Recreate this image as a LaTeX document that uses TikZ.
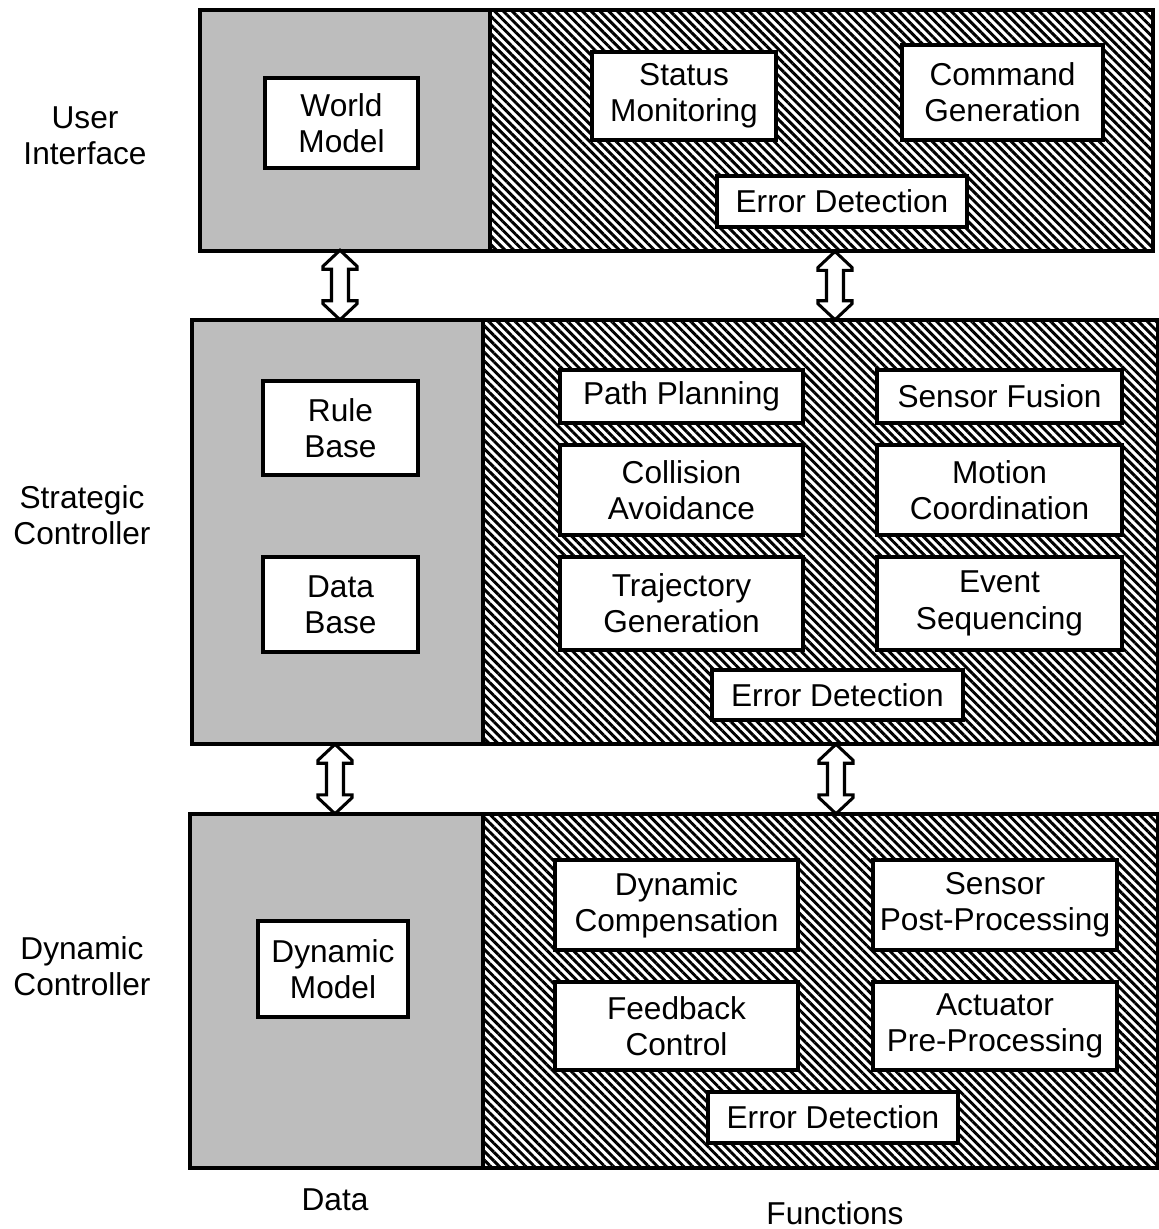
\documentclass[tikz,border=0pt]{standalone}
\usepackage{fontspec}
\setmainfont{Liberation Sans}
\usetikzlibrary{fit,patterns.meta}
\begin{document}
\begin{tikzpicture}[x=0.03cm,y=-0.03cm,
  every node/.style={font=\fontsize{27}{31}\selectfont},
  box/.style={draw,fill=white,line width=2.6pt,align=center,inner sep=0pt},
  region/.style={inner sep=0pt,draw=none},
  datafill/.style={region,fill=black!26},
  funcfill/.style={region,pattern={Lines[angle=-45,distance=5.3pt,line width=2.5pt]}},
  panel/.style={draw,line width=3.4pt,line join=miter},
  lbl/.style={align=center},
  fatarrow/.style={draw,fill=white,line width=2.6pt,line join=miter}]
\useasboundingbox (0,0) rectangle (1159,1229);

\newcommand\fatarrow[2]{%
  \path[fatarrow] (#1) -- ([shift={(17,16)}]#1) -- ([shift={(17,19)}]#1) -- ([shift={(8.5,19)}]#1)
    -- ([shift={(8.5,-19)}]#2) -- ([shift={(17,-19)}]#2) -- ([shift={(17,-16)}]#2) -- (#2)
    -- ([shift={(-17,-16)}]#2) -- ([shift={(-17,-19)}]#2) -- ([shift={(-8.5,-19)}]#2)
    -- ([shift={(-8.5,19)}]#1) -- ([shift={(-17,19)}]#1) -- ([shift={(-17,16)}]#1) -- cycle;}
% box from (x1,y1) to (x2,y2), text centred
\newcommand\bx[6]{%
  \node[box, minimum width={(#4-#2)*0.03cm}, minimum height={(#5-#3)*0.03cm}]
    (#1) at ({(#2+#4)/2},{(#3+#5)/2}) {#6};}

% ---------- User interface panel ----------
\node[datafill, fit={(200,10) (490,250)}] (uid) {};
\node[funcfill, fit={(490,10) (1152,250)}] (uif) {};
\draw[panel] (uid.north west) rectangle (uif.south east);
\draw[panel] (uid.north east) -- (uid.south east);

\bx{wm}{265}{78}{418}{168}{World\\Model}
\bx{sm}{592}{52}{776}{140}{Status\\Monitoring}
\bx{cg}{902}{45}{1103}{140}{Command\\Generation}
\bx{ed1}{717}{176}{967}{227}{Error Detection}

% ---------- Strategic controller panel ----------
\node[datafill, fit={(192,320) (483,744)}] (scd) {};
\node[funcfill, fit={(483,320) (1158,744)}] (scf) {};
\draw[panel] (scd.north west) rectangle (scf.south east);
\draw[panel] (scd.north east) -- (scd.south east);

\bx{rb}{263}{381}{418}{475}{Rule\\Base}
\bx{db}{263}{557}{418}{652}{Data\\Base}
\bx{pp}{560}{370}{803}{423}{Path Planning}
\bx{sf}{877}{370}{1122}{423}{Sensor Fusion}
\bx{ca}{560}{445}{803}{535}{Collision\\Avoidance}
\bx{mc}{877}{445}{1122}{535}{Motion\\Coordination}
\bx{tg}{560}{557}{803}{650}{Trajectory\\Generation}
\bx{es}{877}{557}{1122}{650}{Event\\Sequencing}
\bx{ed2}{712}{670}{963}{720}{Error Detection}

% ---------- Dynamic controller panel ----------
\node[datafill, fit={(190,814) (483,1168)}] (dcd) {};
\node[funcfill, fit={(483,814) (1158,1168)}] (dcf) {};
\draw[panel] (dcd.north west) rectangle (dcf.south east);
\draw[panel] (dcd.north east) -- (dcd.south east);

\bx{dm}{258}{921}{408}{1017}{Dynamic\\Model}
\bx{dyc}{555}{860}{798}{950}{Dynamic\\Compensation}
\bx{spp}{873}{860}{1117}{950}{Sensor\\Post-Processing}
\bx{fc}{555}{982}{798}{1070}{Feedback\\Control}
\bx{app}{873}{982}{1117}{1070}{Actuator\\Pre-Processing}
\bx{ed3}{708}{1092}{958}{1143}{Error Detection}

% ---------- side and bottom labels ----------
\node[lbl] (lui) at (85,136) {User\\Interface};
\node[lbl] (lsc) at (82,515) {Strategic\\Controller};
\node[lbl] (ldc) at (82,966) {Dynamic\\Controller};
\node (ldata) at (335,1200) {Data};
\node (lfunc) at (835,1213) {Functions};

% ---------- double arrows between panels ----------
\coordinate (a1t) at (uid.south -| 340,0);
\coordinate (a1b) at (scd.north -| 340,0);
\coordinate (a2t) at (uif.south -| 835,0);
\coordinate (a2b) at (scf.north -| 835,0);
\coordinate (a3t) at (scd.south -| 335,0);
\coordinate (a3b) at (dcd.north -| 335,0);
\coordinate (a4t) at (scf.south -| 836,0);
\coordinate (a4b) at (dcf.north -| 836,0);
\fatarrow{a1t}{a1b}
\fatarrow{a2t}{a2b}
\fatarrow{a3t}{a3b}
\fatarrow{a4t}{a4b}
\end{tikzpicture}
\end{document}
